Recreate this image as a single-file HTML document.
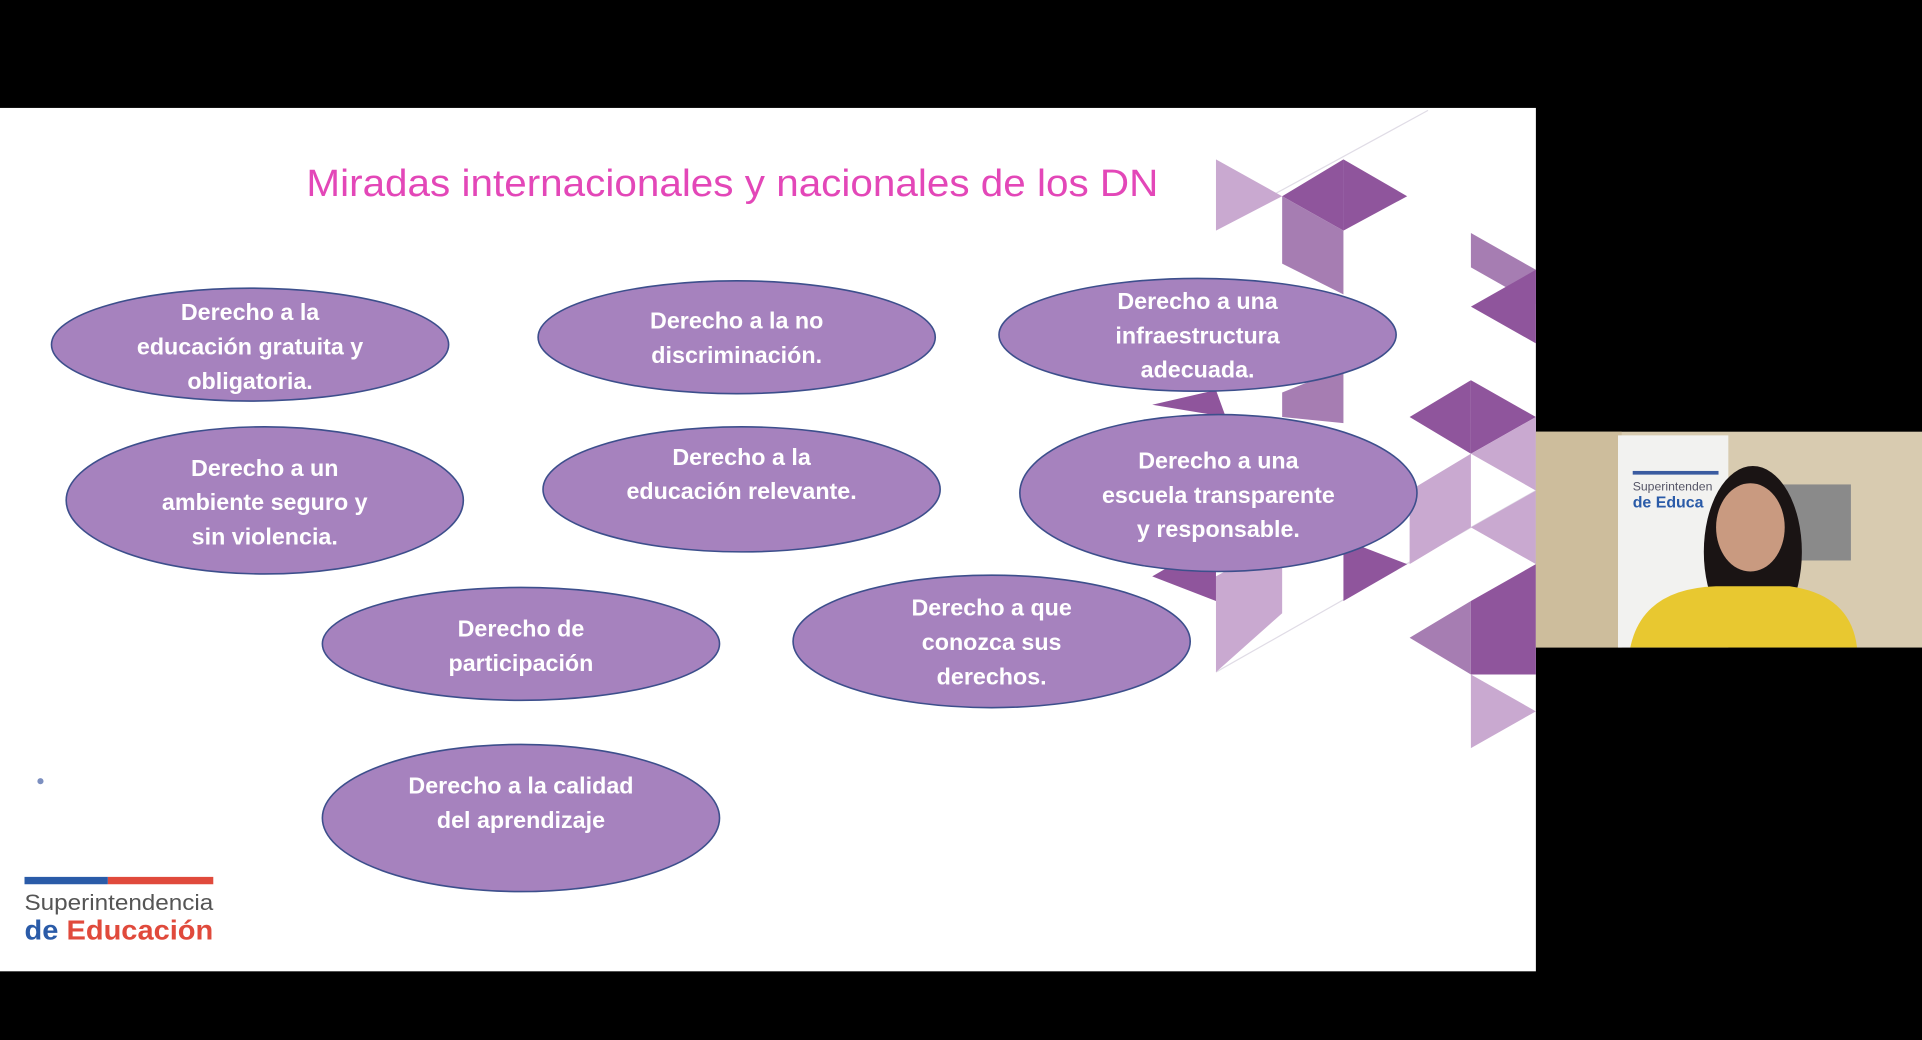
<!DOCTYPE html>
<html><head><meta charset="utf-8"><style>
html,body{margin:0;padding:0;background:#000;width:1922px;height:1040px;overflow:hidden}
svg{display:block}
text{font-family:"Liberation Sans","DejaVu Sans",sans-serif}
</style></head><body>
<svg width="1922" height="1040" viewBox="0 0 1568 848" preserveAspectRatio="none">
<rect width="1568" height="848" fill="#000"/>
<rect x="0" y="88" width="1253" height="704" fill="#fff"/>
<line x1="1000" y1="180" x2="1165" y2="90" stroke="#e0dce6" stroke-width="1"/>
<line x1="992" y1="548" x2="1253" y2="400" stroke="#e0dce6" stroke-width="1"/>
<g>
<polygon points="992,130 1046,160 992,188" fill="#c9a9d0"/>
<polygon points="1046,160 1096,130 1096,188" fill="#8f559c"/>
<polygon points="1096,130 1148,160 1096,188" fill="#8f559c"/>
<polygon points="1046,160 1096,188 1096,240 1046,215" fill="#a67db2"/>
<polygon points="1200,190 1253,220 1253,248 1200,218" fill="#a67db2"/>
<polygon points="1200,250 1253,220 1253,280" fill="#8f559c"/>
<polygon points="1150,340 1200,310 1200,370" fill="#8f559c"/>
<polygon points="1200,310 1253,340 1200,370" fill="#8f559c"/>
<polygon points="1200,370 1253,340 1253,400" fill="#c9a9d0"/>
<polygon points="1150,400 1200,370 1200,430 1150,460" fill="#c9a9d0"/>
<polygon points="1200,430 1253,400 1253,460" fill="#c9a9d0"/>
<polygon points="1096,440 1148,460 1096,490" fill="#8f559c"/>
<polygon points="1150,520 1200,490 1200,550" fill="#a67db2"/>
<polygon points="1200,490 1253,460 1253,550 1200,550" fill="#8f559c"/>
<polygon points="1200,550 1253,580 1200,610" fill="#c9a9d0"/>
<polygon points="992,470 1046,440 1046,500 992,548" fill="#c9a9d0"/>
<polygon points="940,470 992,440 992,490" fill="#8f559c"/>
<polygon points="940,330 992,318 1000,340" fill="#8f559c"/>
<polygon points="1046,320 1096,300 1096,345 1046,340" fill="#a67db2"/>
</g>
<text x="250" y="160" textLength="695" lengthAdjust="spacingAndGlyphs" font-size="31" fill="#e347b8">Miradas internacionales y nacionales de los DN</text>
<g fill="#a682be" stroke="#3d4f8c" stroke-width="1.3">
<ellipse cx="204" cy="281" rx="162" ry="46"/>
<ellipse cx="601" cy="275" rx="162" ry="46"/>
<ellipse cx="977" cy="273" rx="162" ry="46"/>
<ellipse cx="216" cy="408" rx="162" ry="60"/>
<ellipse cx="605" cy="399" rx="162" ry="51"/>
<ellipse cx="994" cy="402" rx="162" ry="64"/>
<ellipse cx="425" cy="525" rx="162" ry="46"/>
<ellipse cx="809" cy="523" rx="162" ry="54"/>
<ellipse cx="425" cy="667" rx="162" ry="60"/>
</g>
<g fill="#fff" font-size="19" font-weight="bold" text-anchor="middle">
<text x="204" y="261">Derecho a la</text><text x="204" y="289">educación gratuita y</text><text x="204" y="317">obligatoria.</text>
<text x="601" y="268">Derecho a la no</text><text x="601" y="296">discriminación.</text>
<text x="977" y="252">Derecho a una</text><text x="977" y="280">infraestructura</text><text x="977" y="308">adecuada.</text>
<text x="216" y="388">Derecho a un</text><text x="216" y="416">ambiente seguro y</text><text x="216" y="444">sin violencia.</text>
<text x="605" y="379">Derecho a la</text><text x="605" y="407">educación relevante.</text>
<text x="994" y="382">Derecho a una</text><text x="994" y="410">escuela transparente</text><text x="994" y="438">y responsable.</text>
<text x="425" y="519">Derecho de</text><text x="425" y="547">participación</text>
<text x="809" y="502">Derecho a que</text><text x="809" y="530">conozca sus</text><text x="809" y="558">derechos.</text>
<text x="425" y="647">Derecho a la calidad</text><text x="425" y="675">del aprendizaje</text>
</g>
<circle cx="33" cy="637" r="2.5" fill="#7c8fc0"/>
<rect x="20" y="715" width="68" height="6" fill="#2a5ba8"/>
<rect x="88" y="715" width="86" height="6" fill="#e04a3c"/>
<text x="20" y="742" font-size="18" textLength="154" lengthAdjust="spacingAndGlyphs" fill="#555">Superintendencia</text>
<text x="20" y="766" font-size="23" font-weight="bold" textLength="154" lengthAdjust="spacingAndGlyphs" fill="#2a5ba8">de <tspan fill="#e04a3c">Educación</tspan></text>
<rect x="1253" y="352" width="315" height="176" fill="#d8cbb0"/>
<rect x="1253" y="352" width="70" height="176" fill="#cdbd9c"/>
<rect x="1320" y="355" width="90" height="173" fill="#f2f2f0"/>
<rect x="1332" y="384" width="70" height="3" fill="#3a5ba0"/>
<text x="1332" y="400" font-size="10" fill="#556">Superintenden</text>
<text x="1332" y="414" font-size="13" font-weight="bold" fill="#2a5ba8">de Educa</text>
<rect x="1430" y="395" width="80" height="62" fill="#8a8a8a"/>
<ellipse cx="1430" cy="450" rx="40" ry="70" fill="#1a1414"/>
<ellipse cx="1428" cy="430" rx="28" ry="36" fill="#c99a80"/>
<path d="M1330,528 Q1340,480 1400,478 L1460,478 Q1510,485 1515,528 Z" fill="#e8c830"/>
</svg>
</body></html>
